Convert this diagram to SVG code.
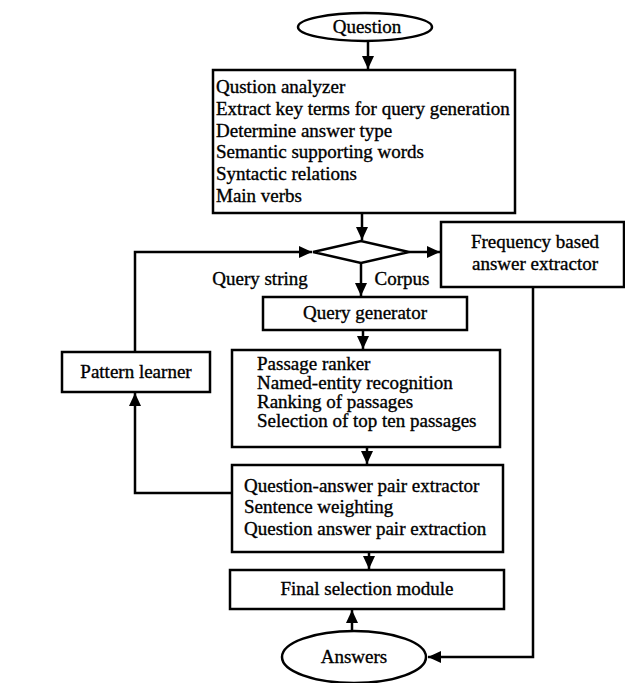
<svg xmlns="http://www.w3.org/2000/svg" width="625" height="683" viewBox="0 0 625 683">
<style>
.box{fill:#fff;stroke:#000;stroke-width:2.5}
.t{font-family:"Liberation Serif","Times New Roman",serif;font-size:19px;fill:#000;stroke:#000;stroke-width:0.35}
.c{text-anchor:middle}
.ln{fill:none;stroke:#000;stroke-width:2.5}
</style>
<defs>
<marker id="ah" markerUnits="userSpaceOnUse" markerWidth="14" markerHeight="12" refX="13" refY="6" orient="auto">
<path d="M0,0 L13,6 L0,12 Z" fill="#000"/>
</marker>
</defs>
<rect width="625" height="683" fill="#fff"/>
<g id="connectors">
<path class="ln" d="M368,41 V69" marker-end="url(#ah)"/>
<path class="ln" d="M362,213 V240" marker-end="url(#ah)"/>
<path class="ln" d="M361,263 V296" marker-end="url(#ah)"/>
<path class="ln" d="M409,252 H440" marker-end="url(#ah)"/>
<path class="ln" d="M135,352 V252 H312" marker-end="url(#ah)"/>
<path class="ln" d="M363,330 V349" marker-end="url(#ah)"/>
<path class="ln" d="M367,447 V464" marker-end="url(#ah)"/>
<path class="ln" d="M232,493 H135 V393" marker-end="url(#ah)"/>
<path class="ln" d="M369,552 V569" marker-end="url(#ah)"/>
<path class="ln" d="M352,632 V610" marker-end="url(#ah)"/>
<path class="ln" d="M533,288 V657 H428" marker-end="url(#ah)"/>
</g>
<g id="question">
<ellipse class="box" cx="365" cy="27" rx="67" ry="14"/>
<text class="t c" x="367" y="33">Question</text>
</g>
<g id="analyzer">
<rect class="box" x="213" y="70" width="302" height="143"/>
<text class="t" x="216" y="93">Qustion analyzer</text>
<text class="t" x="216" y="115">Extract key terms for query generation</text>
<text class="t" x="216" y="137">Determine answer type</text>
<text class="t" x="216" y="158">Semantic supporting words</text>
<text class="t" x="216" y="180">Syntactic relations</text>
<text class="t" x="216" y="202">Main verbs</text>
</g>
<g id="decision">
<polygon class="box" points="313,252 361,241 409,252 361,263"/>
</g>
<g id="labels">
<text class="t c" x="260" y="285">Query string</text>
<text class="t c" x="402" y="285">Corpus</text>
</g>
<g id="frequency">
<rect class="box" x="441" y="222" width="183" height="65"/>
<text class="t c" x="535" y="248">Frequency based</text>
<text class="t c" x="535" y="270">answer extractor</text>
</g>
<g id="pattern">
<rect class="box" x="62" y="352" width="148" height="40"/>
<text class="t c" x="136" y="378">Pattern learner</text>
</g>
<g id="querygen">
<rect class="box" x="263" y="297" width="204" height="33"/>
<text class="t c" x="365" y="319">Query generator</text>
</g>
<g id="passage">
<rect class="box" x="232" y="350" width="268" height="97"/>
<text class="t" x="257" y="370">Passage ranker</text>
<text class="t" x="257" y="389">Named-entity recognition</text>
<text class="t" x="257" y="408">Ranking of passages</text>
<text class="t" x="257" y="427">Selection of top ten passages</text>
</g>
<g id="qapair">
<rect class="box" x="232" y="465" width="271" height="87"/>
<text class="t" x="244" y="492">Question-answer pair extractor</text>
<text class="t" x="244" y="513">Sentence weighting</text>
<text class="t" x="244" y="535">Question answer pair extraction</text>
</g>
<g id="final">
<rect class="box" x="230" y="570" width="274" height="39"/>
<text class="t c" x="367" y="595">Final selection module</text>
</g>
<g id="answers">
<ellipse class="box" cx="354" cy="657" rx="72" ry="26"/>
<text class="t c" x="354" y="663">Answers</text>
</g>
</svg>
